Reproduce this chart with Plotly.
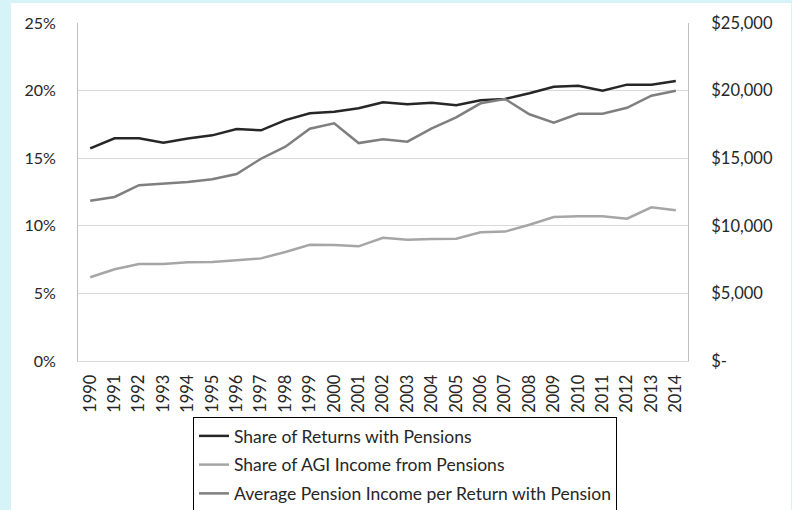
import plotly.graph_objects as go

years = [str(y) for y in range(1990, 2015)]

share_returns = [0.1573, 0.1647, 0.1647, 0.1615, 0.1645, 0.1669, 0.1716, 0.1706, 0.1782, 0.1832,
                 0.1844, 0.1869, 0.1913, 0.1899, 0.1910, 0.1891, 0.1928, 0.1938, 0.1980, 0.2029,
                 0.2036, 0.1999, 0.2044, 0.2044, 0.2071]

share_agi = [0.0619, 0.0678, 0.0717, 0.0717, 0.0730, 0.0732, 0.0745, 0.0759, 0.0806, 0.0860,
             0.0858, 0.0848, 0.0912, 0.0897, 0.0902, 0.0905, 0.0952, 0.0957, 0.1008, 0.1065,
             0.1070, 0.1070, 0.1053, 0.1137, 0.1115]

avg_pension = [11860, 12130, 13000, 13120, 13240, 13440, 13830, 14960, 15850, 17180,
               17580, 16120, 16400, 16220, 17210, 18020, 19060, 19380, 18250, 17630,
               18290, 18290, 18730, 19620, 19990]

right_tickvals = [0, 5000, 10000, 15000, 20000, 25000]
right_ticktext = ["$-", "$5,000", "$10,000", "$15,000", "$20,000", "$25,000"]

names = ["Share of Returns with Pensions",
         "Share of AGI Income from Pensions",
         "Average Pension Income per Return with Pension"]
colors = ["#262626", "#a6a6a6", "#7f7f7f"]

FONT = "Lato"

fig = go.Figure()
fig.add_trace(go.Scatter(x=years, y=share_returns, name=names[0], mode="lines",
                         line=dict(color=colors[0], width=2.5), legendgroup="a"))
fig.add_trace(go.Scatter(x=years, y=share_agi, name=names[1], mode="lines",
                         line=dict(color=colors[1], width=2.5), legendgroup="b"))
fig.add_trace(go.Scatter(x=years, y=avg_pension, name=names[2], mode="lines",
                         line=dict(color=colors[2], width=2.5), legendgroup="c", yaxis="y2"))

fig.update_layout(
    width=792, height=510,
    margin=dict(l=78, r=104, t=23, b=149, autoexpand=False),
    paper_bgcolor="#d6f3f7",
    plot_bgcolor="white",
    font=dict(family=FONT, size=14, color="#404040"),
    shapes=[dict(type="rect", xref="paper", yref="paper",
                 x0=(11 - 78) / 610, x1=(791 - 78) / 610,
                 y0=(361 - 515) / 338, y1=(361 - 3) / 338,
                 fillcolor="white", line=dict(width=0), layer="below")],
    xaxis=dict(type="category", tickangle=-90, showgrid=False, showline=True,
               linecolor="#d9d9d9", linewidth=1, ticks="", range=[-0.5, 24.5],
               automargin=False,
               tickfont=dict(size=16.5, color="#262626"), ticklabelstandoff=6),
    yaxis=dict(range=[0, 0.25], dtick=0.05, tickformat=".0%", showgrid=True,
               gridcolor="#d9d9d9", gridwidth=1, showline=True, linecolor="#bfbfbf",
               zeroline=False, ticklabelstandoff=18, automargin=False,
               tickfont=dict(size=16, color="#262626")),
    yaxis2=dict(range=[0, 25000], overlaying="y", side="right", tickvals=right_tickvals,
                ticktext=right_ticktext, showgrid=False, showline=True, linecolor="#bfbfbf",
                zeroline=False, ticklabelstandoff=19, automargin=False,
                tickfont=dict(size=16.5, color="#262626")),
    legend=dict(x=(193 - 78) / 610, y=(361 - 417) / 338, xanchor="left", yanchor="top",
                bgcolor="white", bordercolor="#000000", borderwidth=1,
                font=dict(family=FONT, size=17.5, color="#262626"),
                tracegroupgap=3, itemwidth=30),
    showlegend=True,
)

fig.write_html("out.html", post_script="document.body.style.margin='0';",
               config={"displayModeBar": False})
